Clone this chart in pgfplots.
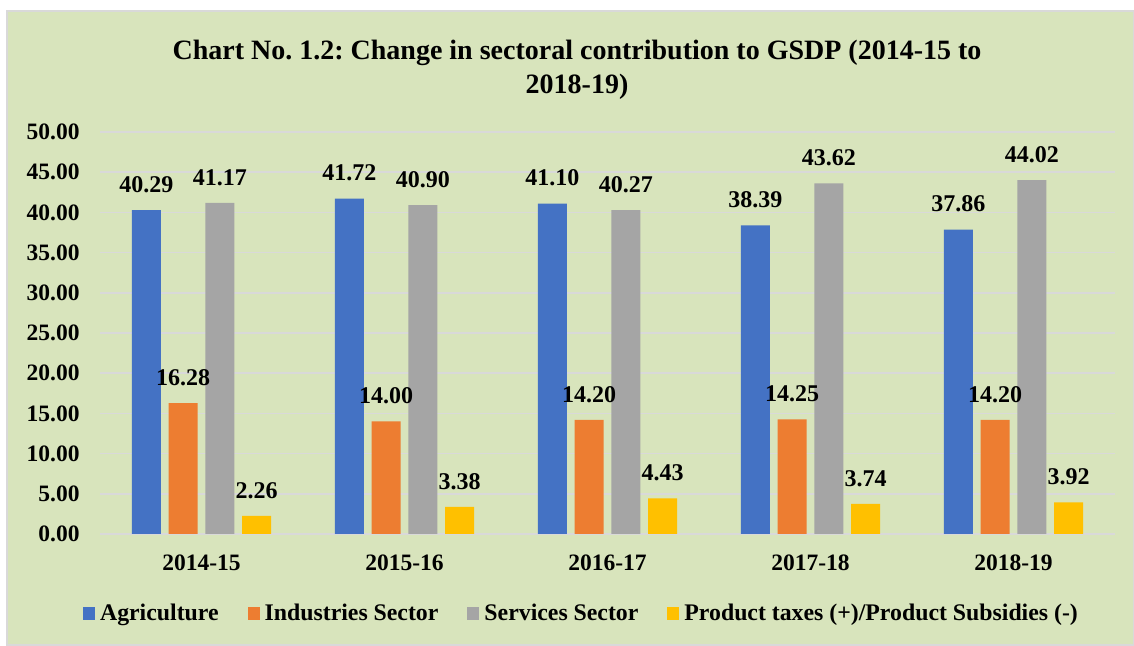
\documentclass[border=0pt]{standalone}
\usepackage{fontspec}
\setmainfont{Liberation Serif}
\usepackage{pgfplots}
\pgfplotsset{compat=1.18}

\definecolor{panel}{HTML}{D8E4BC}
\definecolor{agri}{HTML}{4472C4}
\definecolor{indu}{HTML}{ED7D31}
\definecolor{serv}{HTML}{A5A5A5}
\definecolor{ptax}{HTML}{FFC000}
\definecolor{gridc}{HTML}{D9D9D9}

\newcommand{\lbl}{\fontsize{11.75}{14}\selectfont\bfseries}

\begin{document}
\frenchspacing
\begin{tikzpicture}
% page and chart panel (1px = 0.5pt)
\useasboundingbox (0,0) rectangle (567pt,323pt);
\fill[white] (0,0) rectangle (567pt,323pt);
\filldraw[fill=panel, draw=gridc, line width=0.6pt] (3.5pt,0.5pt) rectangle (567pt,317.5pt);

\node[anchor=base, font=\fontsize{14}{16}\selectfont\bfseries] at (288.5pt,293pt)
  {Chart No. 1.2: Change in sectoral contribution to GSDP (2014-15 to};
\node[anchor=base, font=\fontsize{14}{16}\selectfont\bfseries] at (288.5pt,276.4pt)
  {2018-19)};

\begin{axis}[
  at={(50pt,56pt)}, anchor=south west,
  scale only axis,
  width=507.5pt, height=201pt,
  ybar=3.85pt,
  bar width=14.5pt,
  xmin=-0.5, xmax=4.5,
  ymin=0, ymax=50,
  ytick={0,5,...,50},
  xtick={0,1,2,3,4},
  xticklabels={2014-15,2015-16,2016-17,2017-18,2018-19},
  /pgf/number format/assume math mode=true,
  ticklabel style={font=\lbl, inner sep=0pt},
  yticklabel style={anchor=east, xshift=-10pt,
    /pgf/number format/fixed, /pgf/number format/fixed zerofill, /pgf/number format/precision=2},
  xticklabel style={anchor=base, yshift=-18.5pt},
  axis line style={draw=none},
  major tick length=0pt,
  ymajorgrids,
  major grid style={draw=gridc, line width=0.75pt},
  clip=false,
  nodes near coords={\pgfmathprintnumber[fixed,fixed zerofill,precision=2]{\pgfplotspointmeta}},
  every node near coord/.append style={font=\fontsize{12}{14}\selectfont\bfseries, color=black, inner sep=0pt, anchor=south, yshift=8.5pt},
  legend columns=-1,
  legend image code/.code={\fill[#1] (0pt,-3.25pt) rectangle (6pt,3.25pt);},
  legend style={at={(0.4734,-0.199)}, anchor=center, draw=none, fill=none,
    font=\fontsize{11.9}{14}\selectfont\bfseries,
    nodes={inner sep=0pt},
    cells={anchor=west},
    /tikz/every odd column/.style={column sep=2.5pt},
    /tikz/every even column/.style={column sep=14.5pt}},
]
\addplot[fill=agri, draw=none] coordinates {(0,40.29) (1,41.72) (2,41.10) (3,38.39) (4,37.86)};
\addplot[fill=indu, draw=none] coordinates {(0,16.28) (1,14.00) (2,14.20) (3,14.25) (4,14.20)};
\addplot[fill=serv, draw=none] coordinates {(0,41.17) (1,40.90) (2,40.27) (3,43.62) (4,44.02)};
\addplot[fill=ptax, draw=none] coordinates {(0,2.26) (1,3.38) (2,4.43) (3,3.74) (4,3.92)};
\legend{Agriculture,Industries Sector,Services Sector,Product taxes (+)/Product Subsidies (-)}
\end{axis}
\end{tikzpicture}
\end{document}
